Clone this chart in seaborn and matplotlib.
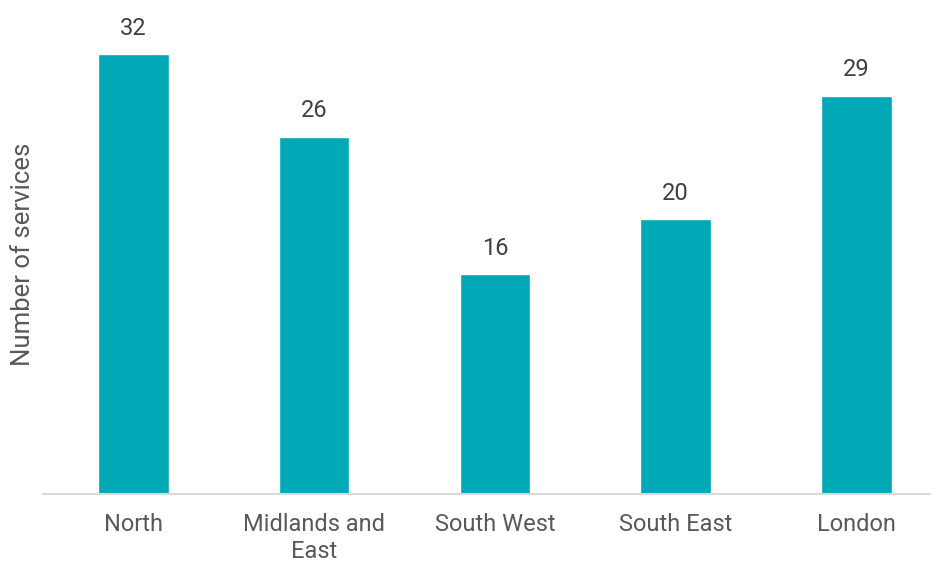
import matplotlib
matplotlib.use("Agg")
import matplotlib.pyplot as plt
import seaborn as sns
import pandas as pd

regions = ["North", "Midlands and\nEast", "South West", "South East", "London"]
services = [32, 26, 16, 20, 29]

sns.set_style("white")
plt.rcParams['font.family'] = ['Roboto', 'DejaVu Sans']

df = pd.DataFrame({"region": regions, "services": services})

fig = plt.figure(figsize=(9.37, 5.62), dpi=100)
ax = fig.add_axes([43 / 937, (562 - 494) / 562, 887 / 937, 494 / 562])
sns.barplot(data=df, x="region", y="services", color="#00A9B5", width=0.39,
            saturation=1, ax=ax)

for i, v in enumerate(services):
    ax.text(i, v + 1.05, str(v), ha="center", va="bottom", fontsize=17, color="#404040")

ax.set_xlim(-0.5, 4.407)
ax.set_ylim(0, 35.95)
ax.set_yticks([])
ax.set_xlabel("")
ax.set_ylabel("")
fig.text(23 / 937, 1 - 254 / 562, "Number of services", rotation=90,
         ha="center", va="center", fontsize=18.5, color="#595959")
ax.tick_params(axis="x", labelsize=17, labelcolor="#595959", length=0, pad=14)
for s in ["top", "right", "left"]:
    ax.spines[s].set_visible(False)
ax.spines["bottom"].set_color("#D9D9D9")
ax.spines["bottom"].set_linewidth(1.5)

fig.savefig("out.png", dpi=100)
